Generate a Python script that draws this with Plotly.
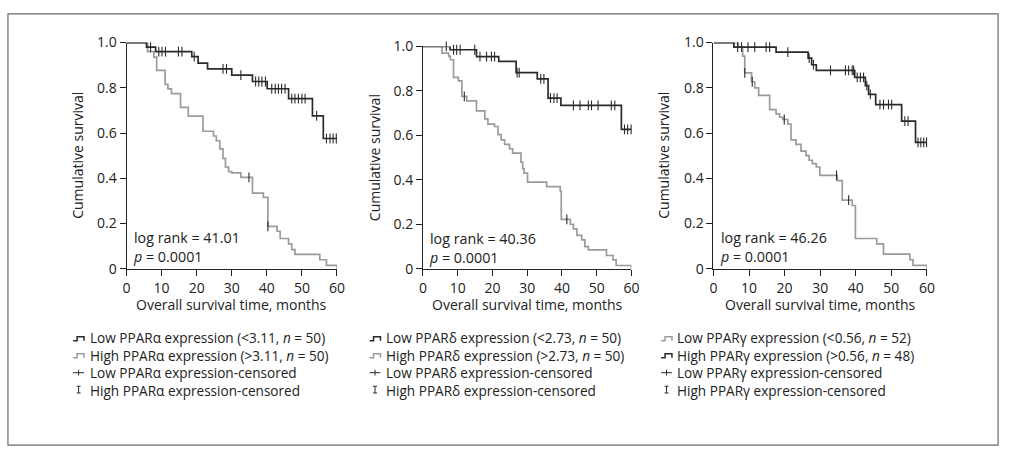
import plotly.graph_objects as go

W, H = 1010, 459
FONT = "Open Sans"
TXT = "#222222"
DARK = "#2a2a2a"
LIGHT = "#9b9b9b"
FS = 14
LEG_FS = 13.6

# ---------------- data ----------------
x_ticks = [0, 10, 20, 30, 40, 50, 60]
y_ticks = [0, 0.2, 0.4, 0.6, 0.8, 1.0]
y_ticktext = ["0", "0.2", "0.4", "0.6", "0.8", "1.0"]

# Panel 1: PPAR alpha
a_low_t = [0, 5.7, 8.3, 18.6, 20.4, 23.1, 30.0, 35.9, 40.1, 46.2, 53.0, 56.1, 60]
a_low_s = [1.0, 0.98, 0.96, 0.938, 0.909, 0.884, 0.856, 0.828, 0.796, 0.752, 0.676, 0.576, 0.576]
a_low_c = [6.85, 9.2, 10.1, 11.1, 14.8, 15.8, 19.3, 27.5, 28.5, 32.6, 36.8, 37.7, 38.6, 39.6,
           41.4, 42.4, 43.3, 44.2, 45.2, 47.1, 48.0, 49.0, 50.0, 50.9, 54.2, 57.0, 58.0, 58.9, 59.8]
a_high_t = [0, 6.0, 7.8, 8.6, 11.0, 11.8, 12.8, 15.4, 17.6, 21.8, 24.8, 25.6, 26.6, 27.5, 28.2, 29.1,
            30.0, 32.6, 35.9, 39.0, 40.3, 42.9, 43.8, 46.2, 47.1, 48.0, 55.1, 57.0, 60]
a_high_s = [1.0, 0.96, 0.936, 0.877, 0.815, 0.795, 0.774, 0.714, 0.675, 0.608, 0.587, 0.566, 0.53, 0.488,
            0.45, 0.43, 0.424, 0.404, 0.335, 0.316, 0.188, 0.166, 0.134, 0.11, 0.085, 0.064, 0.04, 0.015, 0.0]
a_high_c = [34.9, 40.3]

# Panel 2: PPAR delta
d_low_t = [0, 7.8, 15.4, 21.8, 26.8, 32.9, 36.0, 39.7, 57.1, 60]
d_low_s = [1.0, 0.985, 0.954, 0.933, 0.882, 0.854, 0.768, 0.735, 0.627, 0.627]
d_low_c = [6.7, 8.8, 9.7, 10.7, 14.9, 16.4, 18.3, 19.7, 20.6, 27.1, 27.7, 33.9, 34.8, 36.7, 37.7,
           38.6, 43.3, 45.2, 47.6, 48.5, 50.4, 54.2, 55.2, 58.0, 58.9, 59.9]
d_high_t = [0, 5.5, 7.4, 7.9, 8.8, 10.2, 11.2, 12.6, 15.4, 17.8, 18.7, 20.6, 21.6, 22.5, 23.5, 24.9,
            25.8, 28.2, 28.7, 29.1, 30.1, 35.6, 39.5, 39.8, 42.4, 43.3, 44.3, 45.7, 46.6, 47.6, 52.8,
            54.7, 55.6, 60]
d_high_s = [1.0, 0.97, 0.955, 0.94, 0.861, 0.845, 0.775, 0.755, 0.71, 0.674, 0.651, 0.64, 0.603, 0.58,
            0.56, 0.54, 0.52, 0.48, 0.45, 0.43, 0.39, 0.37, 0.35, 0.222, 0.20, 0.18, 0.15, 0.13, 0.10,
            0.085, 0.06, 0.04, 0.015, 0.0]
d_high_c = [11.9, 41.4]

# Panel 3: PPAR gamma
g_high_t = [0, 5.75, 17.6, 26.6, 27.6, 28.9, 39.7, 42.7, 43.6, 45.6, 52.9, 56.8, 60]
g_high_s = [1.0, 0.98, 0.958, 0.931, 0.902, 0.877, 0.846, 0.81, 0.771, 0.726, 0.653, 0.559, 0.559]
g_high_c = [6.8, 7.9, 9.7, 11.6, 14.8, 15.8, 20.9, 26.9, 28.1, 32.9, 37.1, 38.0, 39.0, 39.4, 40.4,
            41.3, 42.2, 43.1, 44.1, 46.8, 47.8, 49.2, 50.1, 53.8, 54.7, 57.5, 58.3, 59.1, 59.9]
g_low_t = [0, 7.0, 8.2, 8.8, 10.7, 11.6, 12.7, 15.8, 17.6, 18.6, 19.5, 20.9, 21.8, 23.2, 24.6, 26.0,
           26.9, 27.8, 28.9, 29.9, 34.8, 36.2, 39.0, 39.9, 45.9, 47.8, 55.2, 56.1, 60]
g_low_s = [1.0, 0.98, 0.94, 0.866, 0.827, 0.80, 0.767, 0.704, 0.685, 0.67, 0.66, 0.64, 0.57, 0.55,
           0.52, 0.50, 0.48, 0.465, 0.45, 0.413, 0.39, 0.304, 0.28, 0.134, 0.11, 0.065, 0.04, 0.015, 0.0]
g_low_c = [8.8, 10.9, 19.9, 34.6, 38.0]

log_rank = ["log rank = 41.01", "log rank = 40.36", "log rank = 46.26"]
p_text = ["<i>p</i> = 0.0001"] * 3

legend_labels = [
    ["Low PPARα expression (<3.11, <i>n</i> = 50)", "High PPARα expression (>3.11, <i>n</i> = 50)",
     "Low PPARα expression-censored", "High PPARα expression-censored"],
    ["Low PPARδ expression (<2.73, <i>n</i> = 50)", "High PPARδ expression (>2.73, <i>n</i> = 50)",
     "Low PPARδ expression-censored", "High PPARδ expression-censored"],
    ["Low PPARγ expression (<0.56, <i>n</i> = 52)", "High PPARγ expression (>0.56, <i>n</i> = 48)",
     "Low PPARγ expression-censored", "High PPARγ expression-censored"],
]
# symbol colours for the two step entries of each legend (dark / light)
legend_step_colors = [[DARK, LIGHT], [DARK, LIGHT], [LIGHT, DARK]]

# ---------------- layout geometry (pixels) ----------------
panels = [
    dict(x0=124, x1=337, ytop=34, ybot=270, ytitle_x=75, leg_sym=70, leg_txt=85),
    dict(x0=424, x1=635, ytop=38, ybot=270, ytitle_x=375, leg_sym=370, leg_txt=385),
    dict(x0=718, x1=934, ytop=34, ybot=270, ytitle_x=668, leg_sym=665, leg_txt=679),
]
LINE_H = 1.3 * LEG_FS
LEG_MID = 369.5
leg_rows = [LEG_MID + (k - 1.5) * LINE_H for k in range(4)]


def px(x):
    return x / W


def py(y):
    return 1 - y / H


def step_at(t, s, x):
    v = s[0]
    for ti, si in zip(t, s):
        if ti <= x:
            v = si
    return v


curves = [
    [(a_low_t, a_low_s, a_low_c, DARK), (a_high_t, a_high_s, a_high_c, LIGHT)],
    [(d_low_t, d_low_s, d_low_c, DARK), (d_high_t, d_high_s, d_high_c, LIGHT)],
    [(g_high_t, g_high_s, g_high_c, DARK), (g_low_t, g_low_s, g_low_c, LIGHT)],
]

fig = go.Figure()
annotations = []
shapes = []

for i, (pan, crv) in enumerate(zip(panels, curves)):
    suf = "" if i == 0 else str(i + 1)
    xa, ya = "x" + suf, "y" + suf
    # light first, dark on top
    for t, s, c, col in sorted(crv, key=lambda k: 0 if k[3] == LIGHT else 1):
        fig.add_trace(go.Scatter(x=t, y=s, mode="lines", line=dict(color=col, width=1.7, shape="hv"),
                                 xaxis=xa, yaxis=ya, showlegend=False, hoverinfo="skip", cliponaxis=False))
    for t, s, c, col in crv:
        fig.add_trace(go.Scatter(x=c, y=[step_at(t, s, v) for v in c], mode="markers",
                                 marker=dict(symbol="line-ns", size=7, line=dict(color=DARK, width=1.1)),
                                 xaxis=xa, yaxis=ya, showlegend=False, hoverinfo="skip", cliponaxis=False))

    axis_common = dict(showgrid=False, zeroline=False, showline=True, linecolor=TXT, linewidth=1,
                       ticks="outside", ticklen=6, tickwidth=1, tickcolor=TXT,
                       tickfont=dict(family=FONT, size=FS, color=TXT))
    fig.update_layout(**{
        "xaxis" + suf: dict(axis_common, domain=[px(pan["x0"]), px(pan["x1"])], range=[0, 60],
                            tickvals=x_ticks, anchor=ya, fixedrange=True),
        "yaxis" + suf: dict(axis_common, domain=[py(pan["ybot"]), py(pan["ytop"])], range=[0, 1],
                            tickvals=y_ticks, ticktext=y_ticktext, anchor=xa, fixedrange=True),
    })

    # stats text (two lines in one block)
    annotations.append(dict(x=1.3, y=0.095, xref=xa, yref=ya, text=log_rank[i] + "<br>" + p_text[i],
                            showarrow=False, xanchor="left", yanchor="middle", align="left",
                            font=dict(family=FONT, size=14.3, color=TXT)))
    # axis titles
    annotations.append(dict(x=px((pan["x0"] + pan["x1"]) / 2), y=py(307), xref="paper", yref="paper",
                            text="Overall survival time, months", showarrow=False, xanchor="center",
                            yanchor="middle", font=dict(family=FONT, size=FS, color=TXT)))
    annotations.append(dict(x=px(pan["ytitle_x"]), y=py((pan["ytop"] + pan["ybot"]) / 2), xref="paper",
                            yref="paper", text="Cumulative survival", textangle=-90, showarrow=False,
                            xanchor="center", yanchor="middle", font=dict(family=FONT, size=FS, color=TXT)))

    # legend text block
    annotations.append(dict(x=px(pan["leg_txt"]), y=py(LEG_MID), xref="paper", yref="paper",
                            text="<br>".join(legend_labels[i]), showarrow=False, xanchor="left",
                            yanchor="middle", align="left", font=dict(family=FONT, size=LEG_FS, color=TXT)))
    # legend symbols
    sx = pan["leg_sym"]
    for r, col in zip(leg_rows[:2], legend_step_colors[i]):
        path = (f"M {px(sx)},{py(r + 2)} L {px(sx + 4)},{py(r + 2)} L {px(sx + 4)},{py(r - 2)} "
                f"L {px(sx + 11)},{py(r - 2)} L {px(sx + 11)},{py(r + 2)}")
        shapes.append(dict(type="path", path=path, xref="paper", yref="paper",
                           line=dict(color=col, width=1.5)))
    r = leg_rows[2]
    shapes.append(dict(type="line", x0=px(sx), x1=px(sx + 11), y0=py(r), y1=py(r), xref="paper",
                       yref="paper", line=dict(color=DARK, width=1)))
    shapes.append(dict(type="line", x0=px(sx + 5.5), x1=px(sx + 5.5), y0=py(r - 3), y1=py(r + 3),
                       xref="paper", yref="paper", line=dict(color=DARK, width=1)))
    r = leg_rows[3]
    shapes.append(dict(type="line", x0=px(sx + 5.5), x1=px(sx + 5.5), y0=py(r - 3.5), y1=py(r + 3.5),
                       xref="paper", yref="paper", line=dict(color=DARK, width=1)))
    for dy in (-3.5, 3.5):
        shapes.append(dict(type="line", x0=px(sx + 3.5), x1=px(sx + 7.5), y0=py(r + dy), y1=py(r + dy),
                           xref="paper", yref="paper", line=dict(color=DARK, width=1)))

# outer frame
shapes.append(dict(type="rect", x0=px(4), x1=px(1006), y0=py(454), y1=py(4), xref="paper", yref="paper",
                   line=dict(color="#6b6b6b", width=1.2)))

fig.update_layout(width=W, height=H, margin=dict(l=0, r=0, t=0, b=0), paper_bgcolor="white",
                  plot_bgcolor="white", showlegend=False, annotations=annotations, shapes=shapes,
                  font=dict(family=FONT, size=FS, color=TXT))

fig.write_html("out.html", config={"displayModeBar": False},
               post_script="document.body.style.margin='0';document.body.style.overflow='hidden';")
